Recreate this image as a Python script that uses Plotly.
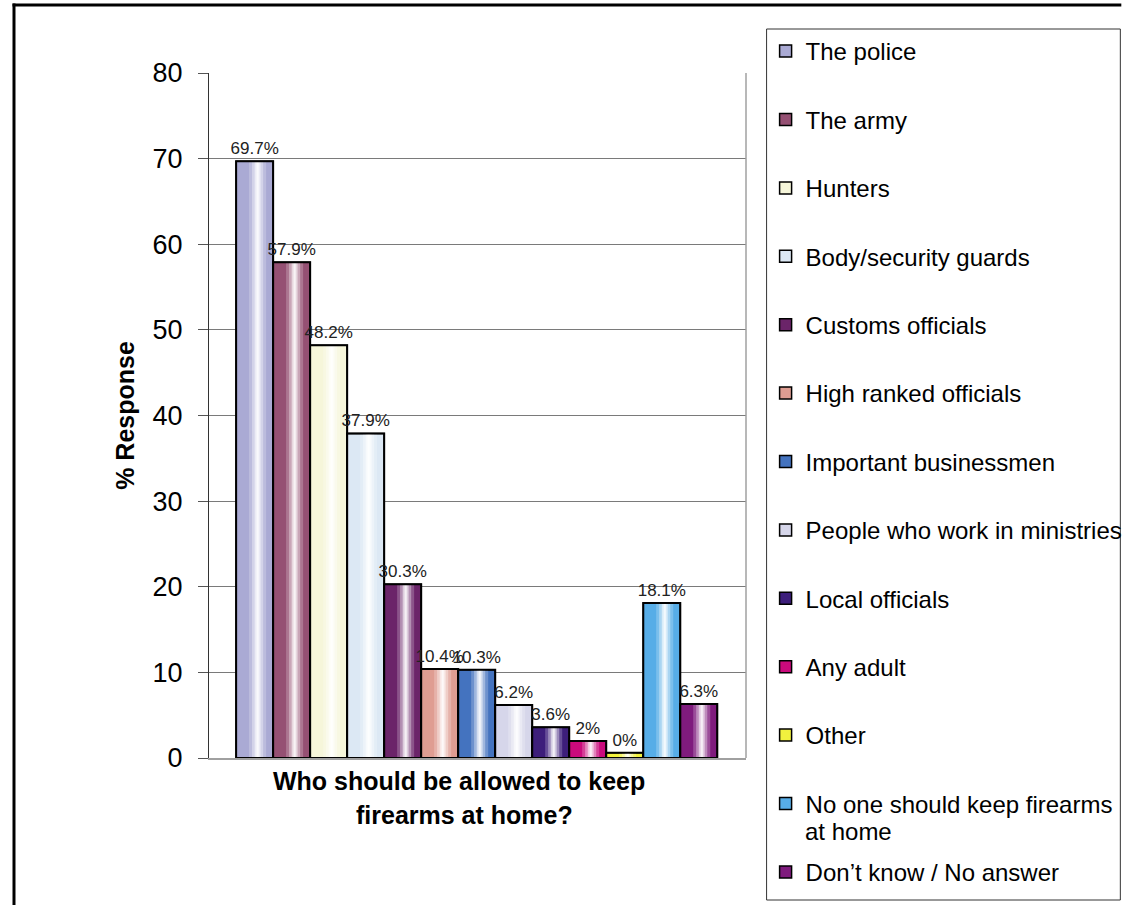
import plotly.graph_objects as go

# ---------------- data ----------------
categories = [
    "The police", "The army", "Hunters", "Body/security guards",
    "Customs officials", "High ranked officials", "Important businessmen",
    "People who work in ministries", "Local officials", "Any adult", "Other",
    "No one should keep firearms", "Don\u2019t know / No answer",
]
category_wrap = {"No one should keep firearms": "at home"}
bar_heights = [69.7, 57.9, 48.2, 37.9, 20.3, 10.4, 10.3, 6.2, 3.6, 2.0, 0.6, 18.1, 6.3]
bar_labels = ["69.7%", "57.9%", "48.2%", "37.9%", "30.3%", "10.4%", "10.3%",
              "6.2%", "3.6%", "2%", "0%", "18.1%", "6.3%"]
colors = ["#AAAAD4", "#955073", "#F6F6DA", "#DCE8F4", "#6B2469", "#DF9D92",
          "#4473BF", "#D6D6EA", "#3D1E7B", "#CA0A7C", "#F2F23E", "#57ADE7", "#7F1B7D"]
y_ticks = [0, 10, 20, 30, 40, 50, 60, 70, 80]

# highlight strips to imitate the cylinder shading: (offset from centre, width, white opacity)
shading = [(0.08, 0.46, 0.22), (0.08, 0.30, 0.35), (0.08, 0.16, 0.55), (0.08, 0.06, 0.7)]

FONT = "Liberation Sans, Arial, sans-serif"

fig = go.Figure()
for i, (cat, h, lab, col) in enumerate(zip(categories, bar_heights, bar_labels, colors)):
    fig.add_trace(go.Bar(
        x=[i], y=[h], width=1, name=cat, legendgroup=cat,
        marker=dict(color=col, line=dict(color="black", width=1.5)),
        hoverinfo="skip",
    ))
    for off, w, op in shading:
        fig.add_trace(go.Bar(
            x=[i + off], y=[h], width=w, showlegend=False, legendgroup=cat,
            marker=dict(color=f"rgba(255,255,255,{op})", line=dict(width=0)),
            hoverinfo="skip",
        ))
    fig.add_trace(go.Bar(
        x=[i], y=[h], width=1, showlegend=False, legendgroup=cat,
        marker=dict(color="rgba(0,0,0,0)", line=dict(color="black", width=2)),
        text=[lab], textposition="outside", constraintext="none", cliponaxis=False,
        textfont=dict(family=FONT, size=17, color="#222222"),
        hoverinfo="skip",
    ))

W, H = 1140, 905
L, R, T, B = 209, 757, 73, 758
pw, ph = R - L, B - T


def px(x):
    return (x - L) / pw


def py(y):
    return (B - y) / ph


ITEM_STEP = 68.4
wrap_annotations = []
for k, cat in enumerate(categories):
    if cat in category_wrap:
        wrap_annotations.append(dict(
            text=category_wrap[cat], xref="paper", yref="paper",
            x=px(815), y=py(52 + k * ITEM_STEP + 27), xanchor="left", yanchor="middle",
            showarrow=False, font=dict(family=FONT, size=24, color="black")))

fig.update_layout(
    width=W, height=H, autosize=False,
    margin=dict(l=L, r=W - R, t=T, b=H - B),
    paper_bgcolor="white", plot_bgcolor="white",
    barmode="overlay",
    font=dict(family=FONT, color="black"),
    xaxis=dict(range=[-1.233, 13.276], showticklabels=False, ticks="",
               showgrid=False, zeroline=False, showline=True,
               linecolor="#A0A0A0", linewidth=1.5, fixedrange=True),
    yaxis=dict(range=[0, 80], tickvals=y_ticks, showgrid=True,
               gridcolor="#7A7A7A", gridwidth=1, zeroline=False,
               showline=True, linecolor="#333333", linewidth=1,
               ticks="outside", ticklen=10, tickcolor="#555555",
               ticklabelstandoff=10,
               tickfont=dict(family=FONT, size=27, color="black"),
               title=dict(text="<b>% Response</b>", standoff=10,
                          font=dict(family=FONT, size=25, color="black"))),
    legend=dict(x=px(777), y=py(29), xanchor="left", yanchor="top",
                font=dict(family=FONT, size=24, color="black"),
                bgcolor="rgba(0,0,0,0)", borderwidth=0, maxheight=880,
                tracegroupgap=34.2, itemclick=False, itemdoubleclick=False),
    showlegend=True,
    shapes=[
        # right edge of plot area
        dict(type="line", xref="paper", yref="paper", x0=1, x1=1, y0=0, y1=1,
             line=dict(color="#A0A0A0", width=1.5)),
        # legend box
        dict(type="rect", xref="paper", yref="paper",
             x0=px(778), x1=px(1139), y0=py(900), y1=py(29),
             line=dict(color="#333333", width=1)),
        # outer frame: top and left edges (the rest lies outside the picture)
        dict(type="line", xref="paper", yref="paper",
             x0=px(8.5), x1=px(W), y0=py(5), y1=py(5),
             line=dict(color="black", width=3)),
        dict(type="line", xref="paper", yref="paper",
             x0=px(10), x1=px(10), y0=py(3.5), y1=py(H),
             line=dict(color="black", width=3)),
    ],
    annotations=[
        dict(text="<b>Who should be allowed to keep</b>", xref="paper", yref="paper",
             x=px(464), y=py(781), showarrow=False, xanchor="center", yanchor="middle",
             font=dict(family=FONT, size=25, color="black")),
        dict(text="<b>firearms at home?</b>", xref="paper", yref="paper",
             x=px(470), y=py(815), showarrow=False, xanchor="center", yanchor="middle",
             font=dict(family=FONT, size=25, color="black")),
    ] + wrap_annotations,
)

fig.write_html(
    "out.html",
    config={"displayModeBar": False, "responsive": False},
    post_script=("document.documentElement.style.overflow='hidden';"
                 "document.body.style.overflow='hidden';"
                 "document.body.style.margin='0';"),
)
